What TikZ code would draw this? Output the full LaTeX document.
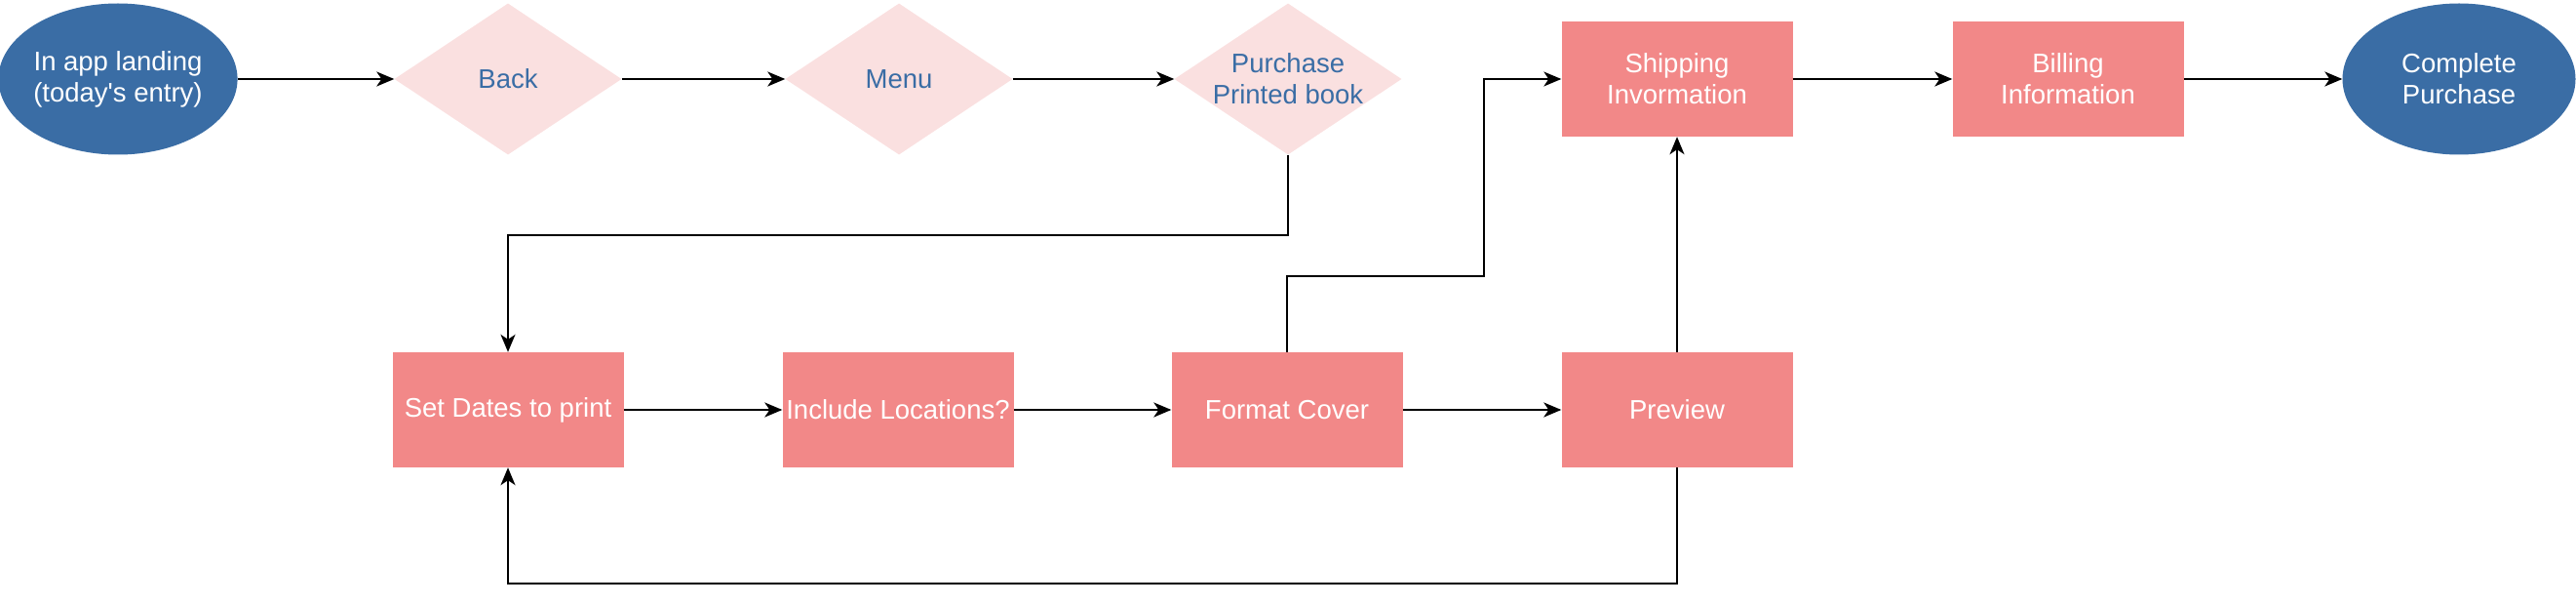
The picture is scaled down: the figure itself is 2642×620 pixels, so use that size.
\documentclass[tikz,border=0pt]{standalone}
\usepackage{fontspec}
\setmainfont{Liberation Sans}[Ligatures=TeXOff]
\usetikzlibrary{shapes.geometric,arrows.meta}
\definecolor{blueE}{HTML}{3A6DA5}
\definecolor{pinkD}{HTML}{FAE0E0}
\definecolor{redR}{HTML}{F28888}
\newcommand{\fs}{\fontsize{27.5pt}{32pt}\selectfont}
\begin{document}
\begin{tikzpicture}[x=1pt,y=-1pt,
  term/.style={ellipse, fill=blueE, text=white, minimum width=241pt, minimum height=155pt, inner sep=0pt, align=center, font=\fs},
  dec/.style={diamond, fill=pinkD, minimum width=233pt, minimum height=155pt, inner sep=0pt},
  dtext/.style={text=blueE, align=center, font=\fs, inner sep=0pt},
  proc/.style={rectangle, fill=redR, text=white, minimum width=237pt, minimum height=118pt, inner sep=0pt, align=center, font=\fs},
  conn/.style={draw=black, line width=2.2pt, -{Stealth[length=18pt,width=15pt,inset=5pt]}},
  elb/.style={draw=black, line width=1.6pt, -{Stealth[length=18pt,width=15pt,inset=5pt]}}
]
\useasboundingbox (0,0) rectangle (2642,620);
\node[term] (e1) at (121,81) {In app landing\\(today's entry)};
\node[dec, label={[dtext]center:Back}] (back) at (521,81) {};
\node[dec, label={[dtext]center:Menu}] (menu) at (922,81) {};
\node[dec, label={[dtext]center:Purchase\\Printed book}] (purch) at (1321,81) {};
\node[proc] (ship) at (1720,81) {Shipping\\Invormation};
\node[proc] (bill) at (2121,81) {Billing\\Information};
\node[term, minimum width=239pt] (comp) at (2522,81) {Complete\\Purchase};
\node[proc] (dates) at (521,420) {Set Dates to print};
\node[proc] (incl) at (921,420) {Include Locations?};
\node[proc] (fmt) at (1320,420) {Format Cover};
\node[proc] (prev) at (1720,420) {Preview};
\coordinate (j1) at (0,241);
\coordinate (j2) at (1522,283);
\coordinate (j3) at (0,598);
\draw[conn] (e1) -- (back);
\draw[conn] (back) -- (menu);
\draw[conn] (menu) -- (purch);
\draw[conn] (ship) -- (bill);
\draw[conn] (bill) -- (comp);
\draw[conn] (dates) -- (incl);
\draw[conn] (incl) -- (fmt);
\draw[conn] (fmt) -- (prev);
\draw[elb] (purch.south) -- (purch.south |- j1) -| (dates.north);
\draw[elb] (fmt.north) |- (j2) |- (ship.west);
\draw[elb] (prev.north) -- (ship.south);
\draw[elb] (prev.south) -- (prev.south |- j3) -| (dates.south);
\end{tikzpicture}
\end{document}
